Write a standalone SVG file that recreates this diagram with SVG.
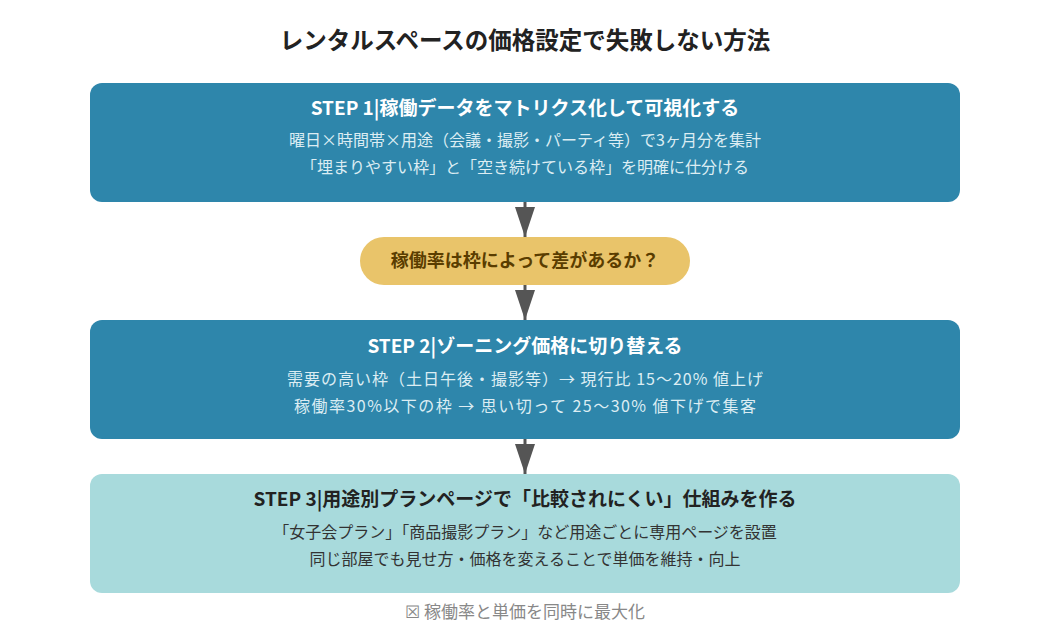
<svg xmlns="http://www.w3.org/2000/svg" width="1050" height="630" viewBox="0 0 1050 630">
<style>
text{font-family:"Noto Sans CJK JP","Noto Sans",sans-serif;text-anchor:middle}
.title{font-size:23.5px;font-weight:bold;fill:#222}
.h{font-size:19px;font-weight:bold;fill:#ffffff}
.b{font-size:16px;fill:#dcedf3}
.h3{font-size:19px;font-weight:bold;fill:#222}
.b3{font-size:16px;fill:#333}
.dec{font-size:18px;font-weight:bold;fill:#5a3d00}
.foot{font-size:17px;fill:#888}
.blue{fill:#2e86ab}
.conn{stroke:#555;stroke-width:3;fill:none}
</style>
<defs>
<marker id="ah" viewBox="0 0 30 20" markerWidth="30" markerHeight="20" refX="30" refY="10" orient="auto" markerUnits="userSpaceOnUse">
<path d="M0,0 L30,10 L0,20 z" fill="#555"/>
</marker>
</defs>
<rect width="1050" height="630" fill="#ffffff"/>
<text class="title" x="525" y="49">レンタルスペースの価格設定で失敗しない方法</text>
<g id="connectors">
<line class="conn" x1="525" y1="202" x2="525" y2="237" marker-end="url(#ah)"/>
<line class="conn" x1="525" y1="285" x2="525" y2="320" marker-end="url(#ah)"/>
<line class="conn" x1="525" y1="439" x2="525" y2="474" marker-end="url(#ah)"/>
</g>
<g id="step1">
<rect class="blue" x="90" y="83" width="870" height="119" rx="12"/>
<text class="h" x="525" y="115">STEP 1|稼働データをマトリクス化して可視化する</text>
<text class="b" x="525" y="146">曜日×時間帯×用途（会議・撮影・パーティ等）で3ヶ月分を集計</text>
<text class="b" x="525" y="173">「埋まりやすい枠」と「空き続けている枠」を明確に仕分ける</text>
</g>
<g id="decision">
<rect x="360" y="237" width="330" height="48" rx="24" fill="#e9c46a"/>
<text class="dec" x="525" y="267">稼働率は枠によって差があるか？</text>
</g>
<g id="step2">
<rect class="blue" x="90" y="320" width="870" height="119" rx="12"/>
<text class="h" x="525" y="353">STEP 2|ゾーニング価格に切り替える</text>
<text class="b" x="525" y="385" textLength="476">需要の高い枠（土日午後・撮影等）→ 現行比 15〜20% 値上げ</text>
<text class="b" x="525" y="412" textLength="462">稼働率30%以下の枠 → 思い切って 25〜30% 値下げで集客</text>
</g>
<g id="step3">
<rect x="90" y="474" width="870" height="119" rx="12" fill="#a8dadc"/>
<text class="h3" x="525" y="506">STEP 3|用途別プランページで「比較されにくい」仕組みを作る</text>
<text class="b3" x="525" y="538">「女子会プラン」「商品撮影プラン」など用途ごとに専用ページを設置</text>
<text class="b3" x="525" y="565">同じ部屋でも見せ方・価格を変えることで単価を維持・向上</text>
</g>
<g id="footer">
<text class="foot" x="525" y="618">☒ 稼働率と単価を同時に最大化</text>
</g>
</svg>
